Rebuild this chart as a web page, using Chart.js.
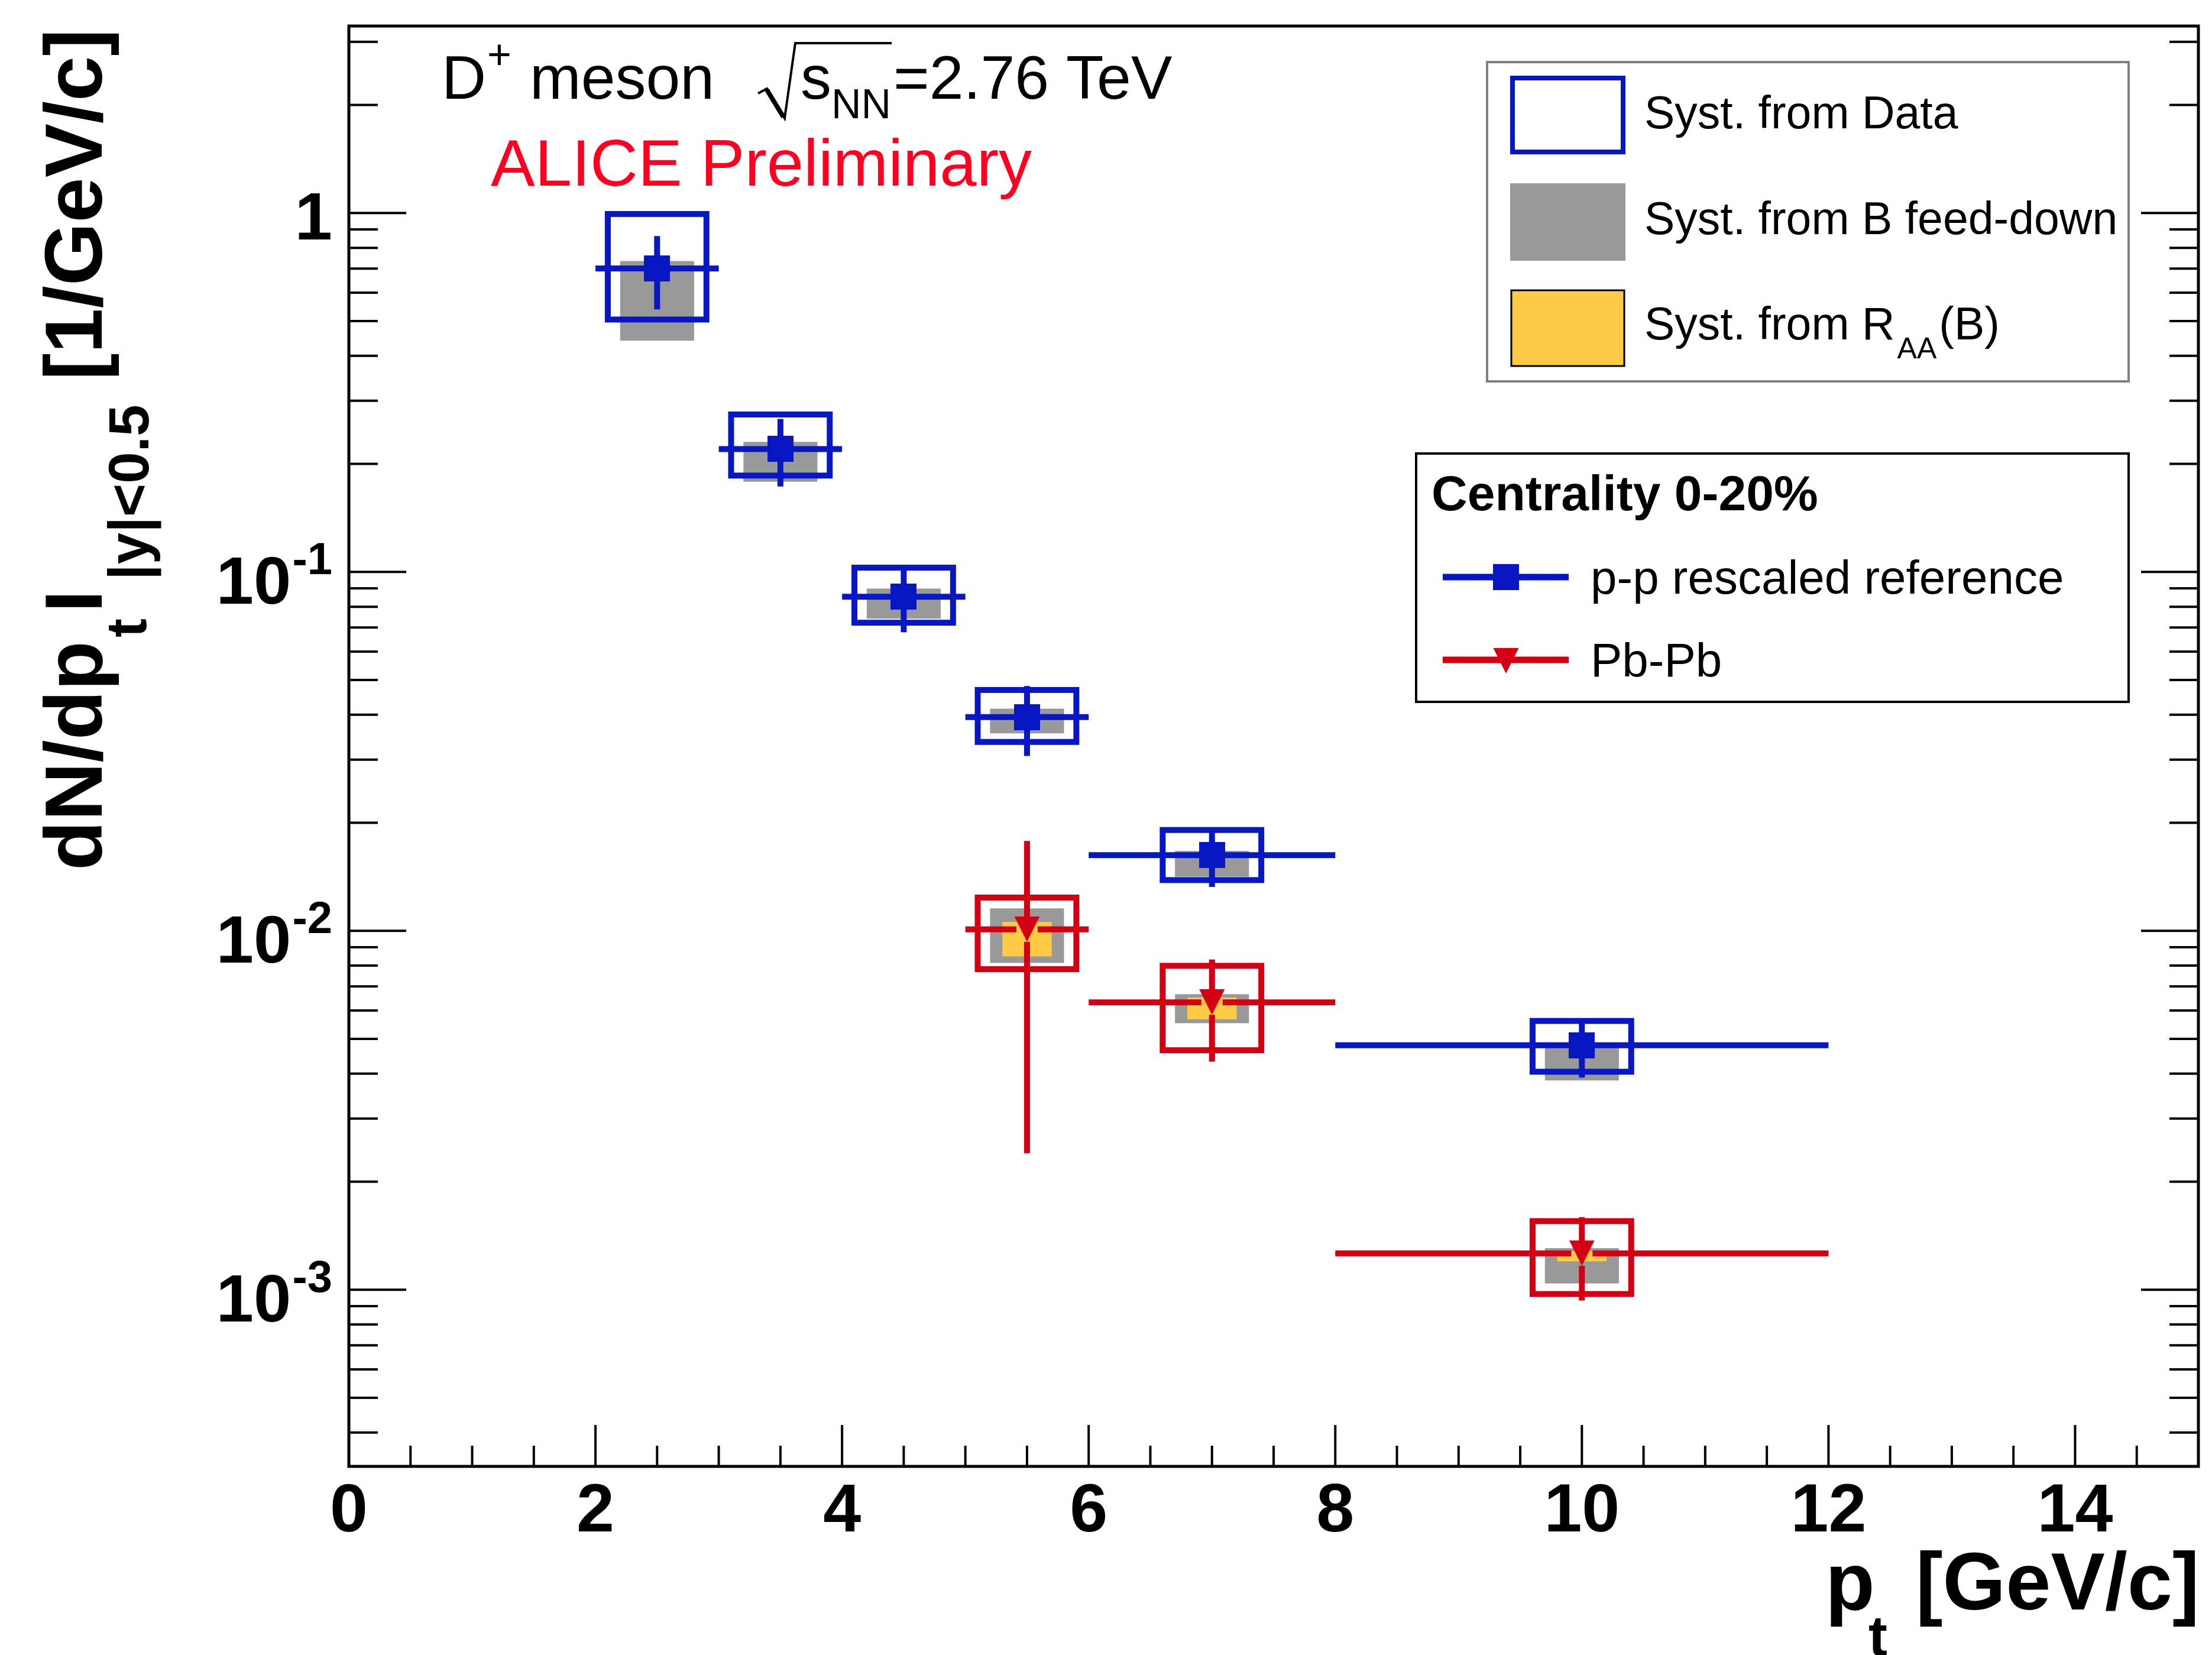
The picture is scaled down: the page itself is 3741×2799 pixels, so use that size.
<!DOCTYPE html>
<html>
<head>
<meta charset="utf-8">
<script src="https://cdn.jsdelivr.net/npm/chart.js@4.4.1/dist/chart.umd.min.js"></script>
<style>
  html, body { margin: 0; padding: 0; background: #ffffff; }
  #myChart { display: block; }
</style>
</head>
<body>
<canvas id="myChart" width="3741" height="2799"></canvas>
<script>
// D+ yields, pt bins in GeV/c
var ptCenter  = [2.5, 3.5, 4.5, 5.5, 7, 10];
var ptBinLow  = [2, 3, 4, 5, 6, 8];
var ptBinHigh = [3, 4, 5, 6, 8, 12];

// p-p rescaled reference
var ppYield        = [0.701, 0.220, 0.0853, 0.0394, 0.01625, 0.0048];
var ppStatErr      = [0.162, 0.047, 0.0174, 0.0087, 0.0030, 0.0009];
var ppSystDataUp   = [0.293, 0.0546, 0.0175, 0.0075, 0.00285, 0.00081];
var ppSystDataDown = [0.196, 0.0344, 0.0131, 0.0058, 0.0024, 0.00075];
var ppFeedDownUp   = [0.034, 0.0104, 0.0046, 0.0022, 0.00045, 0];
var ppFeedDownDown = [0.26, 0.0416, 0.0112, 0.0039, 0.0021, 0.00097];

// Pb-Pb 0-20%
var pbCenter      = [5.5, 7, 10];
var pbBinLow      = [5, 6, 8];
var pbBinHigh     = [6, 8, 12];
var pbYield       = [0.0101, 0.00632, 0.001263];
var pbStatErr     = [0.0077, 0.0020, 0.00033];
var pbSystData    = [0.00228, 0.00167, 0.00029];
var pbFeedDownUp   = [0.00145, 0.00034, 0.000043];
var pbFeedDownDown = [0.00196, 0.00079, 0.000222];
var pbRaaBUp       = [0.00049, 0.0002, 0.000017];
var pbRaaBDown     = [0.00161, 0.00065, 0.000063];

// axis labels
var xTickValues = [0, 2, 4, 6, 8, 10, 12, 14];
var xTickLabels = ['0', '2', '4', '6', '8', '10', '12', '14'];
var yTickValues = [0.001, 0.01, 0.1, 1];
var yTickBase   = ['10', '10', '10', '1'];
var yTickExp    = ['-3', '-2', '-1', ''];

var legendSyst   = ['Syst. from Data', 'Syst. from B feed-down', 'Syst. from R'];
var legendSeries = ['p-p rescaled reference', 'Pb-Pb'];

var blue = '#0717c2';
var red = '#d20012';
var grey = '#999999';
var yellow = '#ffcb47';
var FONT = '"Liberation Sans", Arial, Helvetica, sans-serif';

function makeMarker(kind, color)
{
  var c = document.createElement('canvas');
  c.width = 44;
  c.height = 44;
  var g = c.getContext('2d');
  g.fillStyle = color;
  if (kind == 'square') {
    g.fillRect(0, 0, 44, 44);
  } else {
    g.beginPath();
    g.moveTo(0.5, 0);
    g.lineTo(43.5, 0);
    g.lineTo(22, 43);
    g.closePath();
    g.fill();
  }
  return c;
}
var squareMark = makeMarker('square', blue);
var triangleMark = makeMarker('triangle', red);

function points(xs, ys)
{
  var out = [];
  for (var i = 0; i < xs.length; i++) out.push({x: xs[i], y: ys[i]});
  return out;
}

// filled syst box, half width in pt units
function fillBox(chart, x, hw, lo, hi, color)
{
  var xs = chart.scales.x, ys = chart.scales.y, ctx = chart.ctx;
  var x0 = xs.getPixelForValue(x - hw), x1 = xs.getPixelForValue(x + hw);
  var y0 = ys.getPixelForValue(hi), y1 = ys.getPixelForValue(lo);
  ctx.fillStyle = color;
  ctx.fillRect(x0, y0, x1 - x0, y1 - y0);
}

function openBox(chart, x, hw, lo, hi, color)
{
  var xs = chart.scales.x, ys = chart.scales.y, ctx = chart.ctx;
  var x0 = xs.getPixelForValue(x - hw), x1 = xs.getPixelForValue(x + hw);
  var y0 = ys.getPixelForValue(hi), y1 = ys.getPixelForValue(lo);
  ctx.strokeStyle = color;
  ctx.lineWidth = 10;
  ctx.lineJoin = 'miter';
  ctx.strokeRect(x0, y0, x1 - x0, y1 - y0);
}

// stat error bars, skipping the marker area
function errorBar(chart, x, xl, xh, y, err, color)
{
  var xs = chart.scales.x, ys = chart.scales.y, ctx = chart.ctx;
  var px = xs.getPixelForValue(x), py = ys.getPixelForValue(y);
  var gx = 18, gy = 21;
  ctx.strokeStyle = color;
  ctx.lineWidth = 10;
  ctx.lineCap = 'butt';
  ctx.beginPath();
  ctx.moveTo(xs.getPixelForValue(xl), py);
  ctx.lineTo(px - gx, py);
  ctx.moveTo(px + gx, py);
  ctx.lineTo(xs.getPixelForValue(xh), py);
  ctx.moveTo(px, ys.getPixelForValue(y + err));
  ctx.lineTo(px, py - gy);
  ctx.moveTo(px, py + gy);
  ctx.lineTo(px, ys.getPixelForValue(y - err));
  ctx.stroke();
}

function drawErrors(chart)
{
  var ctx = chart.ctx;
  ctx.save();
  var i;
  for (i = 0; i < ptCenter.length; i++)
    fillBox(chart, ptCenter[i], 0.3, ppYield[i] - ppFeedDownDown[i], ppYield[i] + ppFeedDownUp[i], grey);
  for (i = 0; i < pbCenter.length; i++) {
    fillBox(chart, pbCenter[i], 0.3, pbYield[i] - pbFeedDownDown[i], pbYield[i] + pbFeedDownUp[i], grey);
    fillBox(chart, pbCenter[i], 0.2, pbYield[i] - pbRaaBDown[i], pbYield[i] + pbRaaBUp[i], yellow);
  }
  for (i = 0; i < ptCenter.length; i++)
    openBox(chart, ptCenter[i], 0.4, ppYield[i] - ppSystDataDown[i], ppYield[i] + ppSystDataUp[i], blue);
  for (i = 0; i < pbCenter.length; i++)
    openBox(chart, pbCenter[i], 0.4, pbYield[i] - pbSystData[i], pbYield[i] + pbSystData[i], red);
  for (i = 0; i < ptCenter.length; i++)
    errorBar(chart, ptCenter[i], ptBinLow[i], ptBinHigh[i], ppYield[i], ppStatErr[i], blue);
  for (i = 0; i < pbCenter.length; i++)
    errorBar(chart, pbCenter[i], pbBinLow[i], pbBinHigh[i], pbYield[i], pbStatErr[i], red);
  ctx.restore();
}

function drawFrame(chart)
{
  var ctx = chart.ctx, a = chart.chartArea, xs = chart.scales.x, ys = chart.scales.y;
  var v, x, y, len;
  ctx.save();
  ctx.strokeStyle = '#000';
  ctx.lineWidth = 4;
  ctx.beginPath();
  for (v = 0; v <= 15; v += 0.5) {
    x = xs.getPixelForValue(v);
    len = (v % 2 == 0) ? 70 : 35;
    ctx.moveTo(x, a.bottom);
    ctx.lineTo(x, a.bottom - len);
  }
  for (var e = -4; e <= 0; e++) {
    for (var m = 1; m <= 9; m++) {
      v = m * Math.pow(10, e);
      if (v < ys.min || v > ys.max) continue;
      y = ys.getPixelForValue(v);
      len = (m == 1) ? 97 : 49;
      ctx.moveTo(a.left, y);
      ctx.lineTo(a.left + len, y);
      ctx.moveTo(a.right, y);
      ctx.lineTo(a.right - len, y);
    }
  }
  ctx.stroke();
  ctx.lineWidth = 5;
  ctx.strokeRect(a.left, a.top, a.right - a.left, a.bottom - a.top);

  // tick labels
  ctx.fillStyle = '#000';
  ctx.textBaseline = 'alphabetic';
  ctx.textAlign = 'center';
  ctx.font = 'bold 115px ' + FONT;
  for (var i = 0; i < xTickValues.length; i++)
    ctx.fillText(xTickLabels[i], xs.getPixelForValue(xTickValues[i]), 2590);

  ctx.textAlign = 'right';
  for (i = 0; i < yTickValues.length; i++) {
    y = ys.getPixelForValue(yTickValues[i]);
    var right = 562;
    if (yTickExp[i]) {
      ctx.font = 'bold 76px ' + FONT;
      ctx.fillText(yTickExp[i], right, y + 4);
      right -= ctx.measureText(yTickExp[i]).width + 2;
      ctx.font = 'bold 114px ' + FONT;
      ctx.fillText(yTickBase[i], right, y + 54);
    } else {
      ctx.font = 'bold 114px ' + FONT;
      ctx.fillText(yTickBase[i], right, y + 45);
    }
  }
  ctx.restore();
}

function drawTitles(chart)
{
  var ctx = chart.ctx;
  ctx.save();
  ctx.fillStyle = '#000';
  ctx.textAlign = 'left';
  ctx.textBaseline = 'alphabetic';

  // x axis title
  ctx.font = 'bold 137px ' + FONT;
  ctx.fillText('p', 3087, 2722);
  ctx.fillText('[GeV/c]', 3240, 2722);
  ctx.font = 'bold 96px ' + FONT;
  ctx.fillText('t', 3160, 2800);

  // y axis title, rotated
  ctx.save();
  ctx.translate(172, 1472);
  ctx.rotate(-Math.PI / 2);
  ctx.font = 'bold 137px ' + FONT;
  ctx.fillText('dN/dp', 0, 0);
  ctx.fillText('I', 436, 0);
  ctx.fillText('[1/GeV/c]', 829, 0);
  ctx.font = 'bold 96px ' + FONT;
  ctx.fillText('t', 394, 75);
  ctx.fillText('|y|<0.5', 491, 79);
  ctx.restore();

  // system label
  ctx.font = '104px ' + FONT;
  ctx.fillText('D', 747, 167);
  ctx.fillText('meson', 896, 167);
  ctx.fillText('s', 1354, 167);
  ctx.fillText('=2.76 TeV', 1511, 167);
  ctx.font = '70px ' + FONT;
  ctx.fillText('+', 824, 116);
  ctx.fillText('NN', 1406, 200);
  ctx.strokeStyle = '#000';
  ctx.lineWidth = 4;
  ctx.beginPath();
  ctx.moveTo(1282, 158);
  ctx.lineTo(1297, 150);
  ctx.lineTo(1327, 200);
  ctx.lineTo(1345, 73);
  ctx.lineTo(1508, 73);
  ctx.stroke();
  ctx.lineWidth = 8;
  ctx.beginPath();
  ctx.moveTo(1297, 152);
  ctx.lineTo(1325, 198);
  ctx.stroke();

  ctx.fillStyle = '#ff0020';
  ctx.font = '112px ' + FONT;
  ctx.fillText('ALICE Preliminary', 830, 314);
  ctx.restore();
}

function drawLegends(chart)
{
  var ctx = chart.ctx;
  ctx.save();
  ctx.textAlign = 'left';
  ctx.textBaseline = 'alphabetic';

  // systematics legend
  ctx.fillStyle = '#fff';
  ctx.fillRect(2515, 105, 1085, 540);
  ctx.strokeStyle = '#808080';
  ctx.lineWidth = 4;
  ctx.strokeRect(2515, 105, 1085, 540);

  ctx.strokeStyle = blue;
  ctx.lineWidth = 8;
  ctx.strokeRect(2558, 132, 187, 125);
  ctx.fillStyle = grey;
  ctx.fillRect(2554, 310, 195, 131);
  ctx.fillStyle = yellow;
  ctx.fillRect(2556, 491, 191, 128);
  ctx.strokeStyle = '#000';
  ctx.lineWidth = 3;
  ctx.strokeRect(2556, 491, 191, 128);

  ctx.fillStyle = '#000';
  ctx.font = '77px ' + FONT;
  ctx.fillText(legendSyst[0], 2781, 217);
  ctx.fillText(legendSyst[1], 2781, 396);
  ctx.fillText(legendSyst[2], 2781, 574);
  var w = ctx.measureText(legendSyst[2]).width;
  ctx.font = '50px ' + FONT;
  ctx.fillText('AA', 2781 + w + 4, 606);
  var w2 = ctx.measureText('AA').width;
  ctx.font = '77px ' + FONT;
  ctx.fillText('(B)', 2781 + w + w2 + 8, 574);

  // centrality legend
  ctx.fillStyle = '#fff';
  ctx.fillRect(2395, 767, 1205, 420);
  ctx.strokeStyle = '#000';
  ctx.lineWidth = 4;
  ctx.strokeRect(2395, 767, 1205, 420);

  ctx.fillStyle = '#000';
  ctx.font = 'bold 84px ' + FONT;
  ctx.fillText('Centrality 0-20%', 2421, 863);

  ctx.lineWidth = 11;
  ctx.strokeStyle = blue;
  ctx.beginPath();
  ctx.moveTo(2440, 976);
  ctx.lineTo(2653, 976);
  ctx.stroke();
  ctx.drawImage(squareMark, 2547 - 22, 976 - 22);
  ctx.strokeStyle = red;
  ctx.beginPath();
  ctx.moveTo(2440, 1116);
  ctx.lineTo(2653, 1116);
  ctx.stroke();
  ctx.drawImage(triangleMark, 2547 - 22, 1116 - 20);

  ctx.fillStyle = '#000';
  ctx.font = '80px ' + FONT;
  ctx.fillText(legendSeries[0], 2690, 1004);
  ctx.fillText(legendSeries[1], 2690, 1144);
  ctx.restore();
}

var rootStyle = {
  id: 'rootStyle',
  beforeDatasetsDraw: function (chart) { drawErrors(chart); },
  afterDatasetsDraw: function (chart) {
    drawFrame(chart);
    drawTitles(chart);
    drawLegends(chart);
  }
};

var ctx = document.getElementById('myChart');
var myChart = new Chart(ctx, {
  type: 'scatter',
  data: {
    datasets: [{
      label: legendSeries[0],
      data: points(ptCenter, ppYield),
      pointStyle: squareMark,
      pointRadius: 22,
      showLine: false
    }, {
      label: legendSeries[1],
      data: points(pbCenter, pbYield),
      pointStyle: triangleMark,
      pointRadius: 22,
      showLine: false
    }]
  },
  options: {
    responsive: false,
    animation: false,
    events: [],
    devicePixelRatio: 1,
    layout: { padding: { left: 590, right: 21, top: 44, bottom: 319 } },
    scales: {
      x: { type: 'linear', min: 0, max: 15, bounds: 'data', display: false },
      y: { type: 'logarithmic', min: 3.22e-4, max: 3.32, bounds: 'data', display: false }
    },
    plugins: {
      legend: { display: false },
      tooltip: { enabled: false }
    }
  },
  plugins: [rootStyle]
});
</script>
</body>
</html>
